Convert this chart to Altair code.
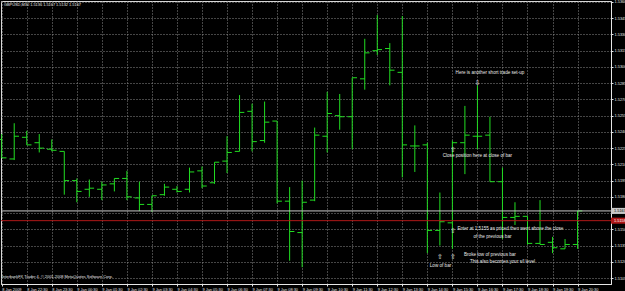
import altair as alt
import pandas as pd

# ---------------- data ----------------
bar_index = list(range(47))
opens = [1.5233, 1.5215, 1.5235, 1.5230, 1.5224, 1.5222, 1.5195, 1.5187, 1.5187, 1.5192,
         1.5197, 1.5179, 1.5173, 1.5182, 1.5187, 1.5187, 1.5204, 1.5193, 1.5213, 1.5222,
         1.5259, 1.5232, 1.5250, 1.5176, 1.5147, 1.5177, 1.5236, 1.5255, 1.5254, 1.5289,
         1.5315, 1.5317, 1.5295, 1.5227, 1.5228, 1.5149, 1.5156, 1.5230, 1.5236, 1.5237,
         1.5194, 1.5161, 1.5162, 1.5137, 1.5138, 1.5132, 1.5136]
highs = [1.5238, 1.5248, 1.5241, 1.5238, 1.5233, 1.5222, 1.5197, 1.5196, 1.5194, 1.5197,
         1.5204, 1.5194, 1.5181, 1.5192, 1.5190, 1.5207, 1.5208, 1.5212, 1.5236, 1.5274,
         1.5266, 1.5268, 1.5250, 1.5189, 1.5195, 1.5244, 1.5277, 1.5275, 1.5290, 1.5326,
         1.5348, 1.5322, 1.5347, 1.5246, 1.5230, 1.5184, 1.5232, 1.5264, 1.5283, 1.5254,
         1.5207, 1.5175, 1.5162, 1.5177, 1.5143, 1.5141, 1.5167]
lows = [1.5216, 1.5214, 1.5228, 1.5221, 1.5222, 1.5182, 1.5175, 1.5180, 1.5177, 1.5185,
        1.5177, 1.5167, 1.5166, 1.5181, 1.5184, 1.5184, 1.5188, 1.5192, 1.5202, 1.5222,
        1.5222, 1.5230, 1.5174, 1.5121, 1.5115, 1.5176, 1.5221, 1.5242, 1.5224, 1.5279,
        1.5311, 1.5283, 1.5198, 1.5203, 1.5128, 1.5135, 1.5132, 1.5201, 1.5224, 1.5194,
        1.5141, 1.5154, 1.5136, 1.5136, 1.5128, 1.5132, 1.5132]
closes = [1.5216, 1.5236, 1.5228, 1.5225, 1.5223, 1.5195, 1.5185, 1.5188, 1.5191, 1.5197,
          1.5180, 1.5173, 1.5181, 1.5189, 1.5185, 1.5203, 1.5190, 1.5212, 1.5221, 1.5258,
          1.5231, 1.5249, 1.5176, 1.5148, 1.5175, 1.5237, 1.5257, 1.5254, 1.5290, 1.5313,
          1.5316, 1.5297, 1.5228, 1.5227, 1.5149, 1.5157, 1.5230, 1.5237, 1.5236, 1.5194,
          1.5161, 1.5162, 1.5137, 1.5136, 1.5133, 1.5136, 1.5167]

time_labels = ["8 Jan 2009", "8 Jan 22:30", "8 Jan 23:30", "9 Jan 00:30", "9 Jan 01:30",
               "9 Jan 02:30", "9 Jan 03:30", "9 Jan 04:30", "9 Jan 05:30", "9 Jan 06:30",
               "9 Jan 07:30", "9 Jan 08:30", "9 Jan 09:30", "9 Jan 10:30", "9 Jan 11:30",
               "9 Jan 12:30", "9 Jan 13:30", "9 Jan 14:30", "9 Jan 15:30", "9 Jan 16:30",
               "9 Jan 17:30", "9 Jan 18:30", "9 Jan 19:30", "9 Jan 20:30"]
time_label_index = [0, 2, 4, 6, 8, 10, 12, 14, 16, 18, 20, 22, 24, 26, 28, 30, 32, 34,
                    36, 38, 40, 42, 44, 46]

price_ticks = [1.5105, 1.5120, 1.5135, 1.5150, 1.5165, 1.5180, 1.5195, 1.5210, 1.5225,
               1.5240, 1.5255, 1.5270, 1.5285, 1.5300, 1.5315, 1.5330, 1.5345, 1.5360]
hidden_price_label = 1.5165   # covered by the bid price tag in the reference

bid_price = 1.5167
level_price = 1.5158

ann_text = ["Here is another short trade set-up",
            "Close position here at close of bar",
            "Enter at 1.5155 as priced then went above the close",
            "of the previous bar",
            "Broke low of previous bar",
            "This also becomes your s/l level",
            "Low of bar"]
ann_idx = [39.0, 38.0, 36.4, 39.2, 39.0, 40.0, 35.05]
ann_price = [1.52944, 1.52177, 1.51503, 1.51429, 1.51262, 1.51198, 1.51161]
ann_align = ["center", "center", "left", "center", "center", "center", "center"]

arrow_text = ["⇩", "⇧", "⇧", "⇧", "⇧"]
arrow_idx = [38.0, 36.05, 36.05, 36.05, 35.0]
arrow_price = [1.52852, 1.52233, 1.51485, 1.51244, 1.51244]

header_text = "GBPUSD,M30  1.5136 1.5167 1.5132 1.5167"
footer_text = "InterbankFX Trader 4, © 2001-2008 MetaQuotes Software Corp."

# ---------------- chart ----------------
bars = pd.DataFrame({"idx": bar_index, "open": opens, "high": highs,
                     "low": lows, "close": closes})

FONT = "Liberation Sans"
GREEN = "#22dd22"
W, H = 610, 283

xscale = alt.Scale(domain=[-0.056, 48.67], nice=False, zero=False)
yscale = alt.Scale(domain=[1.50995, 1.53609], nice=False, zero=False)

label_js = "[" + ",".join("'" + s + "'" for s in time_labels) + "][datum.value/2]"
ylabel_js = (f"abs(datum.value - {hidden_price_label}) < 0.00001 ? '' : "
             "format(datum.value, '.4f')")

xaxis = alt.Axis(values=time_label_index, labelExpr=label_js, grid=True,
                 gridDash=[1, 2], gridColor="#8a8a8a", gridWidth=1,
                 labelColor="#e6e6e6", labelFont=FONT, labelFontSize=3.9,
                 labelAlign="left", labelBaseline="top", labelPadding=1,
                 labelOverlap=False, labelFlush=False, tickSize=2,
                 tickColor="#e6e6e6", domainColor="#e6e6e6", title=None)
yaxis = alt.Axis(orient="right", values=price_ticks, labelExpr=ylabel_js, grid=True,
                 gridDash=[1, 2], gridColor="#8a8a8a", gridWidth=1,
                 labelColor="#e6e6e6", labelFont=FONT, labelFontSize=3.9,
                 labelAlign="left", labelBaseline="middle", labelPadding=1,
                 labelOverlap=False, labelFlush=False, tickSize=2,
                 tickColor="#e6e6e6", domainColor="#e6e6e6", title=None)


def X(field):
    return alt.X(field, scale=xscale, axis=xaxis)


def Y(field):
    return alt.Y(field, scale=yscale, axis=yaxis)


base = alt.Chart(bars)

hl = base.mark_rule(color=GREEN, strokeWidth=1).encode(
    x=X("idx:Q"), y=Y("low:Q"), y2="high:Q")

open_tick = base.transform_calculate(xl="datum.idx - 0.38").mark_rule(
    color=GREEN, strokeWidth=1).encode(x=X("xl:Q"), x2="idx:Q", y=Y("open:Q"))

close_tick = base.transform_calculate(xr="datum.idx + 0.38").mark_rule(
    color=GREEN, strokeWidth=1).encode(x=X("idx:Q"), x2="xr:Q", y=Y("close:Q"))

levels = pd.DataFrame({"price": [bid_price, level_price],
                       "col": ["#c8c8c8", "#b01818"],
                       "tcol": ["#000000", "#ffffff"],
                       "lab": [f"{bid_price:.4f}", f"{level_price:.4f}"]})

level_lines = alt.Chart(levels).mark_rule(strokeWidth=1).encode(
    y=Y("price:Q"), x=alt.value(0), x2=alt.value(W),
    color=alt.Color("col:N", scale=None))

tag_box = alt.Chart(levels).transform_calculate(
    lo="datum.price - 0.00028", hi="datum.price + 0.00028").mark_rect().encode(
    y=Y("lo:Q"), y2="hi:Q", x=alt.value(W), x2=alt.value(W + 14),
    color=alt.Color("col:N", scale=None))

tag_text = alt.Chart(levels).mark_text(align="left", baseline="middle", font=FONT,
                                       fontSize=3.9, dx=3).encode(
    y=Y("price:Q"), x=alt.value(W), text="lab:N",
    color=alt.Color("tcol:N", scale=None))

ann = pd.DataFrame({"t": ann_text, "idx": ann_idx, "price": ann_price, "al": ann_align})
ann_center = alt.Chart(ann[ann.al == "center"]).mark_text(
    align="center", baseline="middle", font=FONT, fontSize=4.6, color="#e8e8e8").encode(
    x=X("idx:Q"), y=Y("price:Q"), text="t:N")
ann_left = alt.Chart(ann[ann.al == "left"]).mark_text(
    align="left", baseline="middle", font=FONT, fontSize=4.6, color="#e8e8e8").encode(
    x=X("idx:Q"), y=Y("price:Q"), text="t:N")

arrows = pd.DataFrame({"t": arrow_text, "idx": arrow_idx, "price": arrow_price})
arrow_marks = alt.Chart(arrows).mark_text(
    align="center", baseline="middle", font="DejaVu Sans", fontSize=7,
    color="#e8e8e8").encode(x=X("idx:Q"), y=Y("price:Q"), text="t:N")

header = alt.Chart(pd.DataFrame({"t": [header_text]})).mark_text(
    align="left", baseline="middle", font=FONT, fontSize=3.9, color="#e8e8e8").encode(
    x=alt.value(3), y=alt.value(4), text="t:N")
footer = alt.Chart(pd.DataFrame({"t": [footer_text]})).mark_text(
    align="left", baseline="middle", font=FONT, fontSize=3.9, color="#e8e8e8").encode(
    x=alt.value(1), y=alt.value(276), text="t:N")

chart = alt.layer(hl, open_tick, close_tick, level_lines, tag_box, tag_text,
                  ann_center, ann_left, arrow_marks, header, footer).properties(
    width=W, height=H,
    padding={"left": 1, "top": 1, "right": 14, "bottom": 7},
    autosize=alt.AutoSizeParams(type="none"),
    background="#000000",
).configure_view(stroke="#d8d8d8", strokeWidth=1, fill="#000000")

chart.save("out.html", embed_options={"renderer": "svg", "actions": False})
